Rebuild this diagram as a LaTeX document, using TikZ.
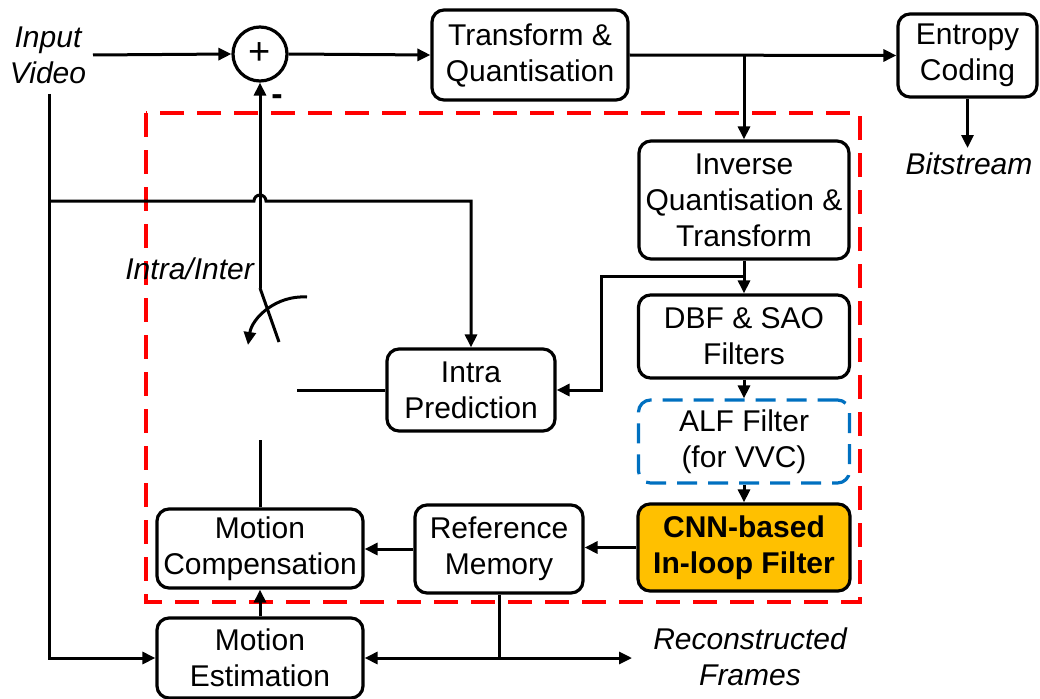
\documentclass[tikz,border=0pt]{standalone}
\usepackage{fontspec}
\setmainfont{Liberation Sans}
\usetikzlibrary{arrows.meta,calc}
\definecolor{loopred}{RGB}{255,0,0}
\definecolor{alfblue}{RGB}{0,112,192}
\definecolor{cnnfill}{RGB}{255,192,0}
\begin{document}
\begin{tikzpicture}[x=1pt,y=-1pt,
  font=\fontsize{30}{36}\selectfont,
  blk/.style={draw, rounded corners=12pt, line width=3.2pt, align=center, inner sep=0pt},
  lower/.style={execute at begin node={\rule{0pt}{28pt}}},
  sz/.style 2 args={minimum width=#1pt, minimum height=#2pt},
  conn/.style={line width=3pt},
  arr/.style={conn, -{Triangle[length=13pt,width=12pt]}},
  lbl/.style={font=\fontsize{30}{36}\selectfont\itshape, align=center, inner sep=0pt},
]
\useasboundingbox (0,0) rectangle (1040,698);

% in-loop region
\draw[loopred, line width=3.4pt, dash pattern=on 24pt off 13pt] (146,113) rectangle (860,602);

% processing blocks
\node[draw, circle, line width=3.2pt, minimum size=54pt, inner sep=0pt,
      font=\fontsize{38}{38}\selectfont] (add) at (260,54) {+};
\node[blk, lower, sz={196}{90}]  (tq)  at (530,55)    {Transform \&\\Quantisation};
\node[blk, lower, sz={139}{83}]  (ec)  at (967.5,55.5) {Entropy\\Coding};
\node[blk, sz={210}{118}] (iqt) at (744,200)   {Inverse\\Quantisation \&\\Transform};
\node[blk, sz={211}{83}]  (dbf) at (744,336.5) {DBF \& SAO\\Filters};
\node[blk, draw=alfblue, dash pattern=on 20pt off 11pt, sz={211}{83}]
      (alf) at (744,441.5) {ALF Filter\\(for VVC)};
\node[blk, lower, fill=cnnfill, font=\fontsize{30}{36}\selectfont\bfseries, sz={212}{87}]
      (cnn) at (744,547.5) {CNN-based\\In-loop Filter};
\node[blk, lower, sz={168}{88}]  (rm)  at (499,549)   {Reference\\Memory};
\node[blk, lower, sz={206}{79}]  (mc)  at (260,548.5) {Motion\\Compensation};
\node[blk, sz={206}{80}]  (me)  at (260,658)   {Motion\\Estimation};
\node[blk, sz={168}{82}]  (ip)  at (471,390)   {Intra\\Prediction};

% labels
\node[lbl] (inp)  at (48,55)    {Input\\Video};
\node[lbl] (bits) at (969,163.5) {Bitstream};
\node[lbl, anchor=east] (ii) at (254,269) {Intra/Inter};
\node[font=\fontsize{34}{34}\selectfont\bfseries, inner sep=0pt] (minus) at (277,100) {-};
\node[lbl] (rec)  at (750,657)  {Reconstructed\\Frames};

% free ends and bends
\coordinate (vtop)  at (49,94);
\coordinate (inEnd) at (93,55);
\coordinate (hy)    at (0,201);
\coordinate (swTop) at (260,288);
\coordinate (swBot) at (279,342);
\coordinate (arcA)  at (307,297);
\coordinate (arcB)  at (248,345);
\coordinate (ipIn)  at (297,390);
\coordinate (mcTop) at (260,440);
\coordinate (bsEnd) at (967.5,148);
\coordinate (recEnd) at (632,658);
\coordinate (fb)    at (601,276);

% forward path
\draw[arr] (inEnd) -- (add.west);
\draw[arr] (add.east) -- (tq.west);
\draw[arr] (tq.east) -- (ec.west);
\draw[arr] (tq.east -| iqt.north) -- (iqt.north);
\draw[arr] (ec.south) -- (bsEnd);

% reconstruction loop
\draw[arr] (iqt.south) -- (dbf.north);
\draw[arr] (iqt.south |- fb) -- (fb) |- (ip.east);
\draw[arr] (dbf.south) -- (alf.north);
\draw[arr] (alf.south) -- (cnn.north);
\draw[arr] (cnn.west) -- (cnn.west -| rm.east);
\draw[arr] (rm.west) -- (rm.west -| mc.east);
\draw[arr] (me.north) -- (mc.south);
\draw[conn] (rm.south) -- (rm.south |- recEnd);
\draw[arr] (rm.south |- recEnd) -- (recEnd);
\draw[arr] (rm.south |- recEnd) -- (me.east |- recEnd);

% input video to motion estimation and intra prediction
\draw[arr] (vtop) |- (me.west);
\draw[arr] (vtop |- hy) -- (254,201) arc[start angle=180, end angle=0, radius=6pt]
           -- (ip.north |- hy) -- (ip.north);

% intra/inter switch
\draw[arr] (swTop) -- (add.south);
\draw[conn] (swTop) -- (swBot);
\draw[arr] (arcA) .. controls (276,295) and (252,318) .. (arcB);
\draw[conn] (ipIn) -- (ip.west);
\draw[conn] (mc.north) -- (mcTop);
\end{tikzpicture}
\end{document}
